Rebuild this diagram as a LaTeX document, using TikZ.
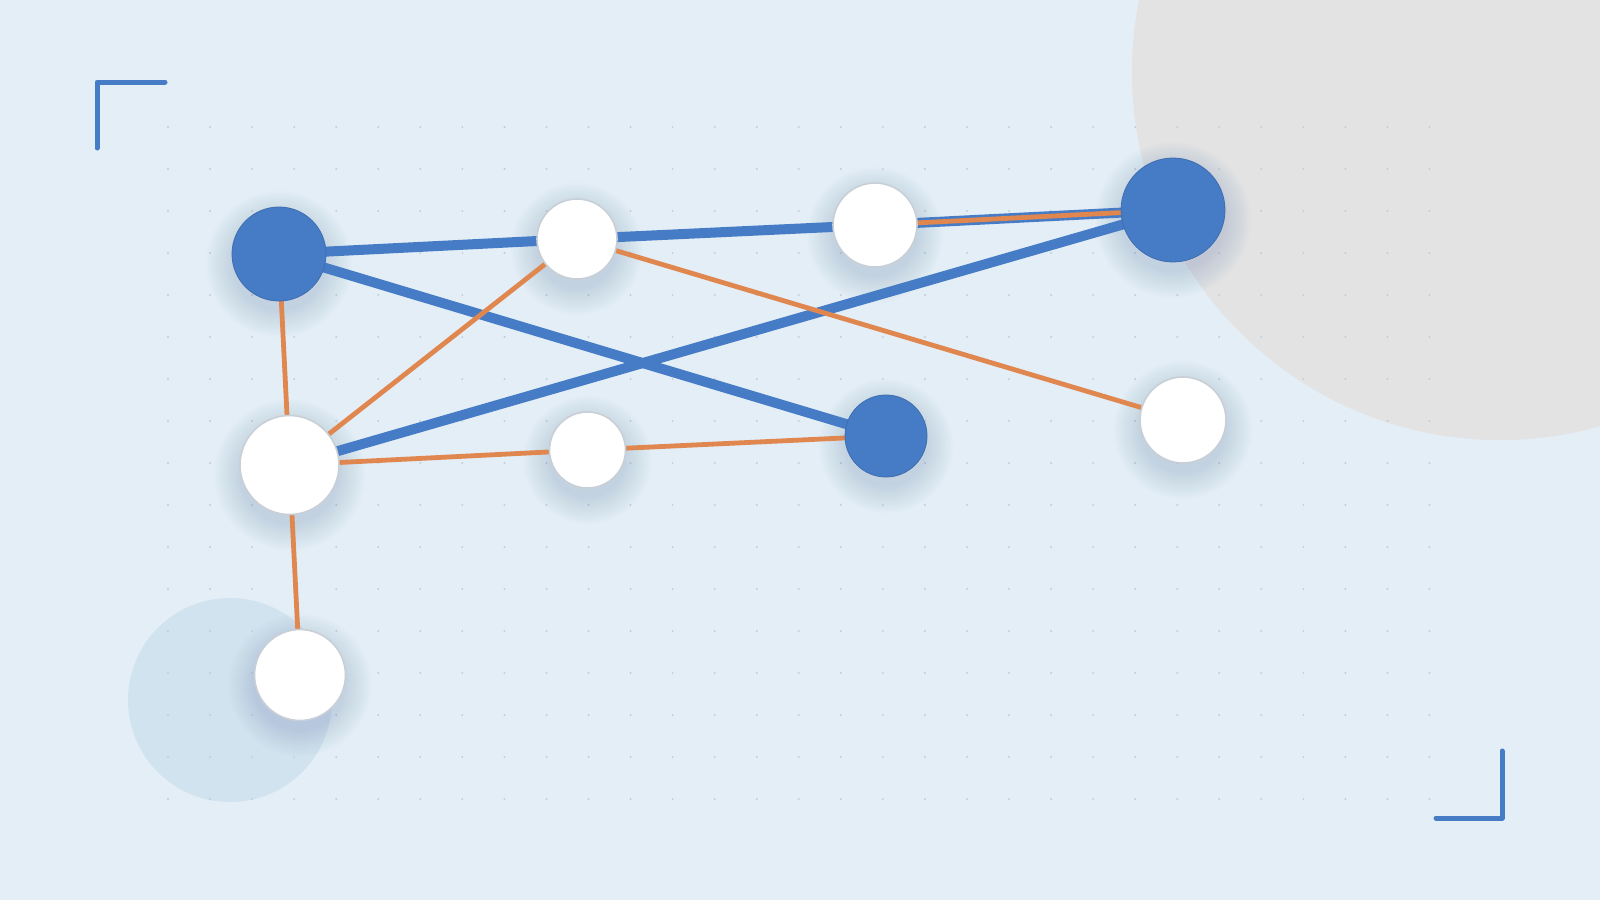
\documentclass[tikz,border=0pt]{standalone}
\definecolor{bgc}{HTML}{E4EEF7}
\definecolor{nblue}{HTML}{467CC6}
\definecolor{norange}{HTML}{E0864F}
\definecolor{graycirc}{HTML}{E3E3E3}
\definecolor{lightcirc}{HTML}{D2E3F0}
\definecolor{dotc}{HTML}{C3CDD7}
\definecolor{nborder}{HTML}{C9CFD6}
\definecolor{shadc}{HTML}{6F8FB5}
\pgfdeclarelayer{bg}
\pgfdeclarelayer{shadows}
\pgfdeclarelayer{edges}
\pgfsetlayers{bg,shadows,edges,main}
\tikzset{
  bluenode/.style={circle, fill=nblue, draw=nblue!88!black, line width=0.8pt, inner sep=0pt},
  whitenode/.style={circle, fill=white, draw=nborder, line width=1.6pt, inner sep=0pt},
  blueedge/.style={draw=nblue, line width=10pt},
  orangeedge/.style={draw=norange, line width=4.8pt},
  bracket/.style={draw=nblue, line width=5pt, line cap=round, line join=round},
  softshadow/.style={fill=shadc, opacity=0.018}
}
\newcommand{\softshade}[2]{%
  \foreach \k in {1,...,14}{
    \fill[softshadow] ([yshift=-10pt]#1.center) circle ({#2+28-2*\k});
  }%
}
\begin{document}
\begin{tikzpicture}[x=1pt,y=-1pt]
\useasboundingbox (0,0) rectangle (1600,900);
% nodes
\node[bluenode, minimum size=94pt] (A) at (279,254) {};
\node[whitenode, minimum size=80pt] (B) at (577,239) {};
\node[whitenode, minimum size=84pt] (C) at (875,225) {};
\node[bluenode, minimum size=104pt] (D) at (1173,210) {};
\node[bluenode, minimum size=82pt] (E) at (886,436) {};
\node[whitenode, minimum size=86pt] (F) at (1183,420) {};
\node[whitenode, minimum size=99pt] (G) at (289.5,465) {};
\node[whitenode, minimum size=76pt] (H) at (587.5,450) {};
\node[whitenode, minimum size=91pt] (I) at (300,675) {};
\begin{pgfonlayer}{bg}
  \fill[bgc] (0,0) rectangle (1600,900);
  \fill[graycirc] (1500,72) circle (368);
  \fill[lightcirc] (230,700) circle (102);
  \foreach \i in {0,...,30}{
    \foreach \j in {0,...,16}{
      \fill[dotc] ({168+42.05*\i},{127+42*\j}) circle (1.1);
    }
  }
  \coordinate (tl1) at (97,148);
  \coordinate (tl2) at (97,82);
  \coordinate (tl3) at (165,82);
  \draw[bracket] (tl1) -- (tl2) -- (tl3);
  \coordinate (br1) at (1502,751);
  \coordinate (br2) at (1502,818);
  \coordinate (br3) at (1436,818);
  \draw[bracket] (br1) -- (br2) -- (br3);
\end{pgfonlayer}
\begin{pgfonlayer}{shadows}
  \softshade{A}{47}
  \softshade{B}{40}
  \softshade{C}{42}
  \softshade{D}{52}
  \softshade{E}{41}
  \softshade{F}{43}
  \softshade{G}{49.5}
  \softshade{H}{38}
  \softshade{I}{45.5}
\end{pgfonlayer}
\begin{pgfonlayer}{edges}
  \draw[blueedge] (A.center) -- (B.center);
  \draw[blueedge] (B.center) -- (C.center);
  \draw[blueedge] (C.center) -- (D.center);
  \draw[blueedge] (A.center) -- (E.center);
  \draw[blueedge] (G.center) -- (D.center);
  \draw[orangeedge] (A.center) -- (G.center);
  \draw[orangeedge] (G.center) -- (B.center);
  \draw[orangeedge] (G.center) -- (H.center);
  \draw[orangeedge] (H.center) -- (E.center);
  \draw[orangeedge] (B.center) -- (F.center);
  \draw[orangeedge] (C.center) -- (D.center);
  \draw[orangeedge] (G.center) -- (I.center);
\end{pgfonlayer}
\end{tikzpicture}
\end{document}
